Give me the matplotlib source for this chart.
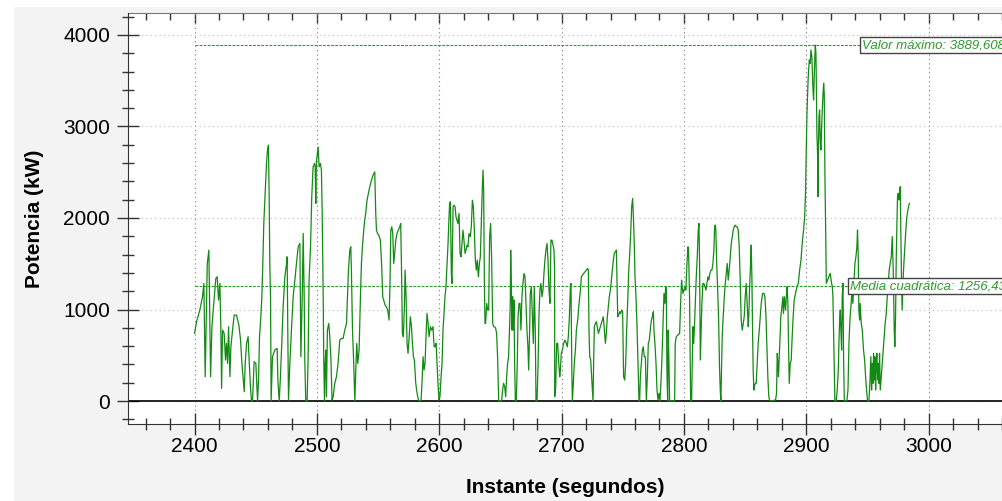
import matplotlib
matplotlib.use("Agg")
import matplotlib.pyplot as plt
from matplotlib.patches import Rectangle
from matplotlib.ticker import MultipleLocator

plt.rcParams["font.family"] = ["Liberation Sans", "DejaVu Sans"]

# (instante s, potencia kW), one list per 100 s stretch
seg_2400 = [
    (2400.0, 739), (2401.6, 866), (2404.3, 994), (2406.5, 1139), (2407.6, 1285), (2408.7, 266),
    (2410.4, 1503), (2411.7, 1649), (2413.1, 266), (2414.2, 812), (2415.8, 1085), (2417.4, 1340),
    (2418.5, 1358), (2419.6, 1103), (2420.7, 1285), (2421.5, 775), (2422.1, 138), (2422.9, 775),
    (2424.2, 739), (2425.3, 448), (2426.1, 630), (2427.0, 411), (2427.8, 812), (2428.9, 266),
    (2429.7, 593), (2431.1, 783), (2432.4, 939), (2434.3, 939), (2436.2, 830), (2437.6, 666),
    (2438.7, 411), (2439.8, 229), (2440.6, 102), (2441.4, 411), (2442.5, 630), (2443.8, 703),
    (2444.6, 448), (2445.7, 157), (2446.5, 0), (2447.4, 0), (2448.7, 430), (2450.1, 411),
    (2451.5, 0), (2452.3, 229), (2453.1, 703), (2454.2, 921), (2455.0, 1139), (2455.8, 1503),
    (2456.6, 1940), (2457.7, 2268), (2458.8, 2595), (2459.6, 2741), (2460.4, 2796), (2461.0, 2231),
    (2461.5, 1503), (2462.1, 1139), (2462.6, 0), (2463.7, 484), (2465.6, 557), (2467.5, 575),
    (2468.1, 229), (2469.2, 0), (2470.2, 266), (2471.3, 630), (2472.4, 1030), (2473.8, 1358),
    (2475.2, 1503), (2475.7, 1576), (2476.2, 775), (2476.8, 11), (2477.9, 411), (2479.2, 775),
    (2480.6, 1139), (2482.0, 1321), (2483.3, 1503), (2484.7, 1685), (2486.1, 1722), (2486.9, 484),
    (2488.0, 1139), (2488.8, 1831), (2489.6, 1139), (2490.1, 448), (2490.9, 0), (2492.0, 0),
    (2492.8, 448), (2493.6, 1321), (2494.8, 1685), (2495.8, 2231), (2496.9, 2559), (2498.0, 2595),
]
seg_2500 = [
    (2498.6, 2559), (2499.1, 2159), (2499.6, 2614), (2501.0, 2777), (2501.8, 2559), (2502.9, 2595),
    (2503.7, 2523), (2504.3, 2086), (2505.1, 1212), (2505.6, 448), (2506.2, 0), (2506.7, 411),
    (2507.3, 557), (2507.8, 47), (2508.6, 775), (2509.7, 848), (2510.5, 703), (2511.4, 484),
    (2512.4, 11), (2513.3, 47), (2514.6, 193), (2516.0, 266), (2517.3, 411), (2518.7, 666),
    (2520.1, 684), (2521.4, 684), (2522.8, 775), (2524.2, 848), (2525.0, 1139), (2525.8, 1431),
    (2526.9, 1649), (2527.7, 1685), (2528.2, 1431), (2529.1, 775), (2530.1, 411), (2531.0, 0),
    (2531.8, 339), (2532.6, 630), (2533.4, 411), (2534.5, 557), (2535.6, 1139), (2536.4, 1503),
    (2537.2, 1685), (2538.3, 1867), (2539.1, 1977), (2539.9, 2049), (2541.0, 2195), (2542.1, 2268),
    (2543.2, 2341), (2544.6, 2413), (2545.9, 2468), (2547.3, 2504), (2548.1, 2049), (2548.7, 1867),
    (2549.5, 1831), (2550.6, 1813), (2551.9, 1758), (2553.0, 1467), (2553.8, 1139), (2554.6, 1103),
    (2555.7, 1048), (2556.8, 1030), (2557.9, 994), (2559.0, 885), (2559.8, 1321), (2560.4, 1867),
    (2561.2, 1904), (2562.0, 1831), (2562.8, 1503), (2563.6, 1613), (2564.5, 1758), (2565.5, 1831),
    (2566.6, 1867), (2567.7, 1904), (2568.5, 1940), (2569.1, 1503), (2569.9, 739), (2570.7, 703),
    (2571.5, 1030), (2572.1, 1431), (2572.9, 1139), (2573.7, 630), (2574.5, 521), (2575.6, 739),
    (2576.4, 921), (2577.3, 812), (2578.1, 630), (2578.9, 484), (2579.7, 448), (2580.8, 193),
    (2581.9, 84), (2583.0, 11), (2584.1, 0), (2585.2, 11), (2586.0, 229), (2586.8, 484),
    (2587.6, 339), (2588.4, 411), (2589.2, 703), (2590.0, 957), (2590.9, 848), (2591.7, 703),
    (2592.8, 812), (2593.9, 775), (2594.9, 812), (2595.8, 593),
]
seg_2600 = [
    (2596.6, 593), (2597.4, 630), (2598.2, 411), (2599.0, 193), (2599.8, 11), (2600.6, 47),
    (2601.5, 266), (2602.3, 411), (2603.1, 775), (2603.9, 957), (2604.7, 1139), (2605.5, 1249),
    (2606.4, 1503), (2607.2, 1722), (2608.0, 2013), (2608.5, 2159), (2609.1, 2177), (2609.9, 1394),
    (2610.4, 1285), (2611.3, 2122), (2612.1, 2140), (2612.9, 2122), (2613.7, 2013), (2614.5, 1977),
    (2615.3, 1940), (2616.2, 2049), (2617.0, 1613), (2617.8, 1576), (2618.6, 1722), (2619.4, 1867),
    (2620.2, 1758), (2621.1, 1613), (2621.9, 1649), (2622.7, 1704), (2623.5, 1685), (2624.3, 1831),
    (2625.4, 1795), (2626.2, 1904), (2627.1, 2195), (2627.9, 2122), (2628.7, 1867), (2629.5, 1540),
    (2630.3, 1431), (2631.1, 1540), (2632.0, 1358), (2632.8, 1503), (2633.6, 1576), (2634.4, 1940),
    (2635.2, 2322), (2635.8, 2523), (2636.3, 2304), (2636.9, 1285), (2637.4, 848), (2637.9, 848),
    (2638.8, 1067), (2639.6, 994), (2640.4, 994), (2641.2, 1795), (2642.0, 1940), (2642.8, 1576),
    (2643.7, 848), (2644.5, 812), (2645.3, 812), (2646.1, 794), (2646.9, 739), (2647.7, 484),
    (2648.6, 0), (2651.0, 0), (2651.8, 120), (2652.6, 193), (2653.5, 157), (2654.3, 47),
    (2655.1, 266), (2655.9, 411), (2656.7, 484), (2657.6, 848), (2658.1, 1103), (2658.4, 1649),
    (2658.9, 1285), (2659.5, 775), (2660.0, 1139), (2660.5, 775), (2661.1, 1103), (2661.6, 448),
    (2662.2, 0), (2663.0, 0), (2663.8, 411), (2664.4, 921), (2665.2, 1067), (2666.0, 1067),
    (2666.8, 775), (2667.6, 1139), (2668.4, 1285), (2669.3, 1394), (2670.1, 1358), (2670.9, 1067),
    (2671.7, 775), (2672.5, 593), (2673.1, 339), (2673.9, 775), (2674.4, 1176), (2675.3, 1249),
    (2676.1, 921), (2676.9, 630), (2677.7, 1249), (2678.5, 775), (2679.1, 0), (2679.9, 0),
    (2680.7, 339), (2681.5, 921), (2682.3, 1212), (2683.1, 1285), (2684.0, 1139), (2684.8, 1212),
    (2685.6, 1394), (2686.4, 1540), (2687.2, 1649), (2688.1, 1722), (2688.9, 1540), (2689.7, 1212),
    (2690.5, 1067), (2691.3, 1758), (2692.1, 1758), (2693.0, 1704), (2693.8, 1649), (2694.3, 1431),
]
seg_2700 = [
    (2694.4, 47), (2695.2, 157), (2696.0, 630), (2696.8, 630), (2697.7, 411), (2698.5, 266),
    (2699.0, 339), (2699.8, 521), (2700.6, 557), (2701.7, 630), (2702.8, 666), (2703.9, 630),
    (2704.7, 593), (2705.5, 703), (2706.4, 921), (2707.2, 1249), (2707.7, 1285), (2708.3, 411),
    (2708.8, 0), (2709.6, 193), (2710.4, 411), (2711.3, 557), (2712.1, 775), (2713.2, 885),
    (2714.3, 1067), (2715.4, 1212), (2716.2, 1358), (2717.0, 1376), (2718.1, 1394), (2719.2, 1412),
    (2720.3, 1431), (2721.3, 1449), (2721.9, 1431), (2722.4, 775), (2723.0, 484), (2723.8, 448),
    (2724.6, 266), (2725.2, 120), (2725.7, 0), (2726.2, 411), (2726.8, 812), (2727.6, 848),
    (2728.4, 866), (2729.2, 812), (2730.1, 739), (2730.9, 775), (2731.7, 812), (2732.5, 848),
    (2733.3, 885), (2734.1, 921), (2735.0, 775), (2735.8, 630), (2736.6, 739), (2737.4, 921),
    (2738.2, 1030), (2739.0, 1139), (2739.9, 1212), (2740.7, 1321), (2741.5, 1431), (2742.3, 1540),
    (2743.1, 1613), (2744.0, 1631), (2744.8, 1649), (2745.3, 1321), (2745.9, 921), (2746.7, 939),
    (2747.5, 976), (2748.3, 957), (2749.1, 994), (2749.9, 976), (2750.7, 266), (2751.6, 229),
    (2752.4, 411), (2753.2, 775), (2754.0, 1067), (2754.8, 1394), (2755.7, 1613), (2756.5, 1831),
    (2757.3, 2122), (2758.1, 2213), (2758.6, 2049), (2759.5, 1685), (2760.0, 1358), (2760.8, 1139),
    (2761.6, 848), (2762.5, 411), (2763.3, 0), (2763.8, 0), (2764.4, 266), (2765.2, 411),
    (2766.0, 557), (2766.8, 593), (2767.6, 484), (2768.5, 484), (2769.3, 0), (2770.1, 266),
    (2770.9, 630), (2771.7, 666), (2772.5, 775), (2773.4, 885), (2774.2, 921), (2775.0, 976),
    (2775.5, 775), (2776.3, 630), (2777.2, 411), (2778.0, 120), (2778.8, 11), (2779.6, 84),
    (2780.4, 0), (2781.2, 193), (2782.1, 484), (2782.9, 848), (2783.7, 1176), (2784.5, 1067),
    (2785.1, 1249), (2785.6, 1212), (2786.1, 339), (2786.7, 0), (2787.2, 775), (2787.8, 411),
    (2788.3, 0), (2792.4, 0),
]
seg_2800 = [
    (2792.9, 630), (2793.7, 703), (2795.1, 721), (2796.5, 739), (2797.3, 1067), (2798.1, 1321),
    (2798.6, 1249), (2799.2, 1176), (2800.0, 1212), (2800.8, 1249), (2801.6, 1212), (2802.5, 1503),
    (2803.3, 1685), (2803.8, 1649), (2804.6, 1139), (2805.5, 0), (2806.3, 11), (2806.8, 411),
    (2807.4, 812), (2807.9, 630), (2808.5, 775), (2809.3, 1067), (2810.1, 1358), (2810.9, 1576),
    (2811.7, 1867), (2812.3, 1940), (2812.8, 1503), (2813.4, 448), (2813.9, 703), (2814.7, 1067),
    (2815.5, 1285), (2816.3, 1285), (2817.2, 1249), (2818.0, 1212), (2818.8, 1285), (2819.6, 1358),
    (2820.4, 1321), (2821.2, 1394), (2822.1, 1431), (2822.9, 1431), (2823.7, 1503), (2824.5, 1649),
    (2825.1, 1904), (2825.6, 1922), (2826.1, 1867), (2826.7, 1540), (2827.5, 1249), (2828.3, 921),
    (2829.1, 375), (2829.7, 120), (2830.2, 0), (2830.8, 411), (2831.3, 703), (2832.1, 921),
    (2833.0, 1139), (2833.8, 1285), (2834.6, 1394), (2835.4, 1503), (2836.2, 1321), (2837.0, 1431),
    (2837.9, 1576), (2838.7, 1722), (2839.5, 1795), (2840.3, 1867), (2841.1, 1904), (2841.9, 1922),
    (2842.8, 1904), (2843.6, 1904), (2844.4, 1867), (2845.2, 1685), (2846.0, 1321), (2846.8, 885),
    (2847.7, 775), (2848.5, 848), (2849.3, 921), (2850.1, 1139), (2850.9, 1285), (2851.7, 1067),
    (2852.6, 812), (2853.1, 957), (2853.7, 1249), (2854.5, 1503), (2855.0, 1704), (2855.6, 1321),
    (2856.1, 775), (2856.6, 339), (2857.2, 120), (2857.7, 175), (2858.6, 193), (2859.1, 193),
    (2859.9, 411), (2860.7, 630), (2861.6, 775), (2862.4, 921), (2863.2, 1067), (2864.3, 1176),
    (2865.4, 1176), (2866.2, 1139), (2867.0, 957), (2867.8, 630), (2868.6, 266), (2869.4, 47),
    (2870.0, 11), (2871.4, 0), (2874.9, 11), (2875.7, 84), (2876.3, 521), (2876.8, 411),
    (2877.3, 266), (2877.9, 484), (2878.4, 630), (2879.2, 921), (2880.1, 1030), (2880.9, 1139),
    (2881.4, 957), (2882.2, 1139), (2883.1, 994), (2883.9, 1176), (2884.4, 1249), (2885.0, 1067),
    (2885.5, 630), (2886.1, 193), (2886.9, 411), (2887.7, 448), (2888.5, 703), (2889.3, 921),
    (2890.1, 1103),
]
seg_2900 = [
    (2891.3, 1177), (2892.4, 1250), (2893.5, 1286), (2894.6, 1432), (2895.7, 1541), (2896.7, 1723),
    (2897.8, 1869), (2898.7, 2015), (2899.5, 2306), (2900.0, 2743), (2900.6, 3144), (2901.4, 3472),
    (2901.9, 3617), (2902.5, 3727), (2903.3, 3690), (2903.8, 3836), (2904.6, 3763), (2905.5, 3399),
    (2906.0, 3290), (2906.6, 3581), (2907.4, 3889.6), (2907.9, 3800), (2908.2, 3508), (2908.7, 2925),
    (2909.3, 2670), (2909.5, 2233), (2909.8, 2670), (2910.4, 3107), (2910.9, 3180), (2911.5, 2816),
    (2912.0, 2743), (2912.5, 2962), (2913.1, 3180), (2913.6, 3326), (2914.2, 3472), (2914.7, 3362),
    (2915.3, 2415), (2915.8, 1942), (2916.4, 1286), (2917.4, 1322), (2918.5, 1359), (2919.6, 1395),
    (2920.7, 1286), (2921.3, 1250), (2921.8, 1140), (2922.3, 776), (2922.9, 339), (2923.4, 0),
    (2924.5, 0), (2925.3, 120), (2926.2, 339), (2926.7, 630), (2927.2, 849), (2927.8, 995),
    (2928.3, 776), (2928.9, 557), (2929.4, 1140), (2930.0, 1286), (2930.5, 485), (2931.1, 0),
    (2933.2, 0), (2934.1, 120), (2934.9, 630), (2935.7, 885), (2936.5, 1031), (2937.3, 1177),
    (2938.1, 1067), (2938.9, 1286), (2939.8, 1505), (2940.6, 1577), (2941.4, 1687), (2941.9, 1869),
    (2942.5, 1577), (2943.0, 995), (2943.6, 885), (2944.1, 1067), (2944.9, 849), (2945.8, 776),
    (2946.3, 667), (2946.8, 557), (2947.7, 448), (2948.5, 266), (2949.3, 120), (2950.1, 0),
    (2951.2, 0), (2952.0, 193), (2952.8, 485), (2953.4, 120), (2953.9, 412), (2954.5, 193),
    (2955.0, 521), (2955.6, 230), (2956.1, 485), (2956.7, 120), (2957.2, 412), (2957.7, 521),
    (2958.3, 230), (2958.8, 412), (2959.4, 193), (2959.9, 521), (2960.5, 120), (2961.3, 266),
    (2962.1, 412), (2962.9, 557), (2963.7, 703), (2964.5, 849), (2965.4, 958), (2966.2, 1140),
    (2967.0, 1286), (2967.8, 1432), (2968.6, 1505), (2969.5, 1577), (2970.3, 1796), (2971.1, 1432),
    (2971.9, 776), (2972.4, 594), (2973.0, 922), (2973.5, 1505), (2974.1, 1942), (2974.6, 2233),
    (2975.2, 2270), (2975.7, 2197), (2976.3, 2233), (2976.8, 2342), (2977.3, 1869), (2977.9, 1286),
    (2978.4, 995), (2979.0, 1286), (2979.8, 1505), (2980.6, 1687), (2981.4, 1869), (2982.2, 2015),
    (2983.1, 2087), (2983.9, 2142), (2984.4, 2160),
]

valor_maximo = 3889.608
media_cuadratica = 1256.437
texto_maximo = "Valor máximo: 3889,608"
texto_media = "Media cuadrática: 1256,437"

puntos = seg_2400 + seg_2500 + seg_2600 + seg_2700 + seg_2800 + seg_2900
instante = [t for t, _ in puntos]
potencia = [p for _, p in puntos]

VERDE = "#138a13"
W, H = 1002, 501

fig = plt.figure(figsize=(W / 100, H / 100), dpi=100, facecolor="#f3f3f3")
# thin white margin on the left and top, as in the screenshot
fig.add_artist(Rectangle((0, 0), 13 / W, 1, transform=fig.transFigure, color="white", zorder=-5))
fig.add_artist(Rectangle((0, 1 - 6 / H), 1, 6 / H, transform=fig.transFigure, color="white", zorder=-5))

ax = fig.add_axes([128 / W, 1 - 424 / H, 1 - 128 / W, (424 - 13) / H])
ax.set_facecolor("white")

ax.plot(instante, potencia, color=VERDE, lw=0.9, zorder=3)
ax.axhline(0, color="black", lw=1.2, zorder=2)

# reference lines with their boxed labels (the labels run past the right edge, as in the original)
ax.hlines(valor_maximo, 2400, 2944, colors="#2a9a2a", linestyles=(0, (2.5, 1.2)), lw=0.8, zorder=4)
ax.hlines(media_cuadratica, 2400, 2934, colors="#2a9a2a", linestyles=(0, (2.5, 1.2)), lw=0.8, zorder=4)
caja = dict(boxstyle="square,pad=0.15", fc="white", ec="#444444", lw=1)
ax.text(2945.6, valor_maximo, texto_maximo, fontsize=9.5, style="italic", color="#2e9a2e",
        ha="left", va="center", bbox=caja, zorder=5)
ax.text(2935.6, media_cuadratica, texto_media, fontsize=9.5, style="italic", color="#2e9a2e",
        ha="left", va="center", bbox=caja, zorder=5)

ax.set_xlim(2345.6, 3060)
ax.set_ylim(-251, 4240)
ax.xaxis.set_major_locator(MultipleLocator(100))
ax.xaxis.set_minor_locator(MultipleLocator(20))
ax.yaxis.set_major_locator(MultipleLocator(1000))
ax.yaxis.set_minor_locator(MultipleLocator(200))

ax.grid(axis="x", which="major", linestyle=(0, (1, 3)), color="#777777", lw=0.8)
ax.grid(axis="y", which="major", linestyle=(0, (1, 3)), color="#bbbbbb", lw=0.8)
ax.set_axisbelow(True)

ax.tick_params(which="major", direction="inout", length=16, width=1, color="#333333", labelsize=15)
ax.tick_params(which="minor", direction="inout", length=8, width=1, color="#333333")
ax.tick_params(axis="x", which="major", pad=1)
ax.tick_params(axis="y", which="major", pad=5)

for s in ("top", "right"):
    ax.spines[s].set_visible(False)
for s in ("left", "bottom"):
    ax.spines[s].set_color("#333333")

top = ax.secondary_xaxis("top")
top.xaxis.set_major_locator(MultipleLocator(100))
top.xaxis.set_minor_locator(MultipleLocator(20))
top.tick_params(which="major", direction="in", length=7, width=1, color="#333333", labeltop=False)
top.tick_params(which="minor", direction="in", length=5, width=1, color="#333333")
top.spines["top"].set_color("#777777")

ax.set_xlabel("Instante (segundos)", fontsize=15, fontweight="bold", labelpad=16)
ax.set_ylabel("Potencia (kW)", fontsize=15, fontweight="bold", labelpad=14)

fig.savefig("out.png", dpi=100, facecolor=fig.get_facecolor())
